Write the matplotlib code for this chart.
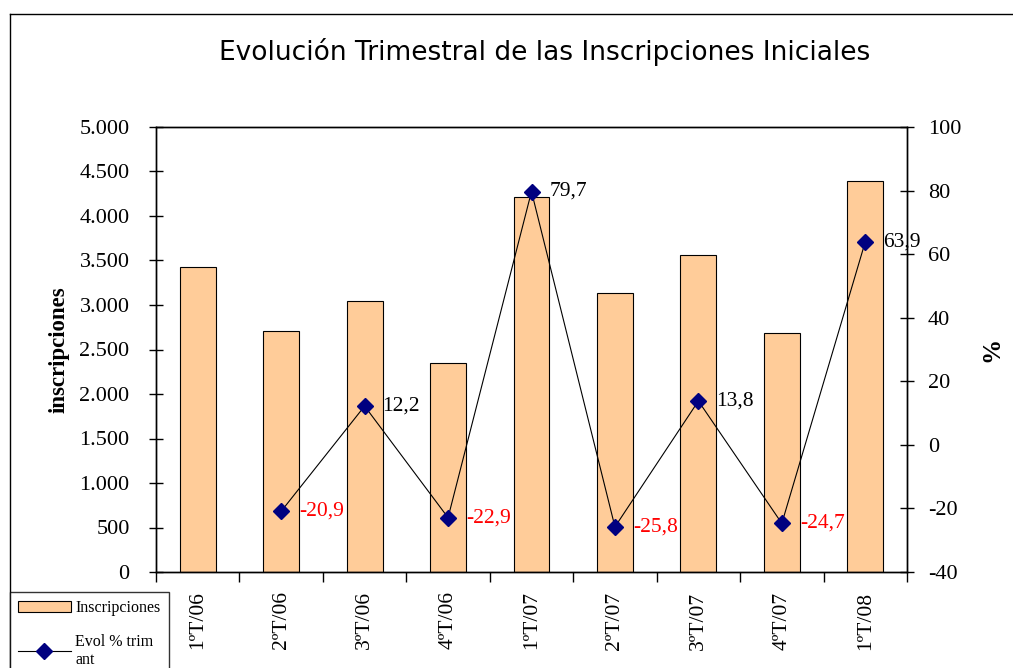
import matplotlib
matplotlib.use("Agg")
import matplotlib.pyplot as plt
from matplotlib.lines import Line2D
from matplotlib.ticker import FuncFormatter, MultipleLocator
import numpy as np

plt.rcParams["axes.unicode_minus"] = False

categories = ["1ºT/06", "2ºT/06", "3ºT/06", "4ºT/06", "1ºT/07", "2ºT/07", "3ºT/07", "4ºT/07", "1ºT/08"]
inscripciones = [3430, 2710, 3045, 2348, 4213, 3135, 3562, 2685, 4393]
evol_pct = [None, -20.9, 12.2, -22.9, 79.7, -25.8, 13.8, -24.7, 63.9]
evol_labels = ["", "-20,9", "12,2", "-22,9", "79,7", "-25,8", "13,8", "-24,7", "63,9"]

serif = "Liberation Serif"

fig = plt.figure(figsize=(10.13, 6.68), dpi=100)
ax = fig.add_axes([156/1013, 1-572/668, 751/1013, 445/668])
ax2 = ax.twinx()

x = np.arange(len(categories))
ax.bar(x, inscripciones, width=0.43, color="#FFCC99", edgecolor="black", linewidth=0.8, zorder=2,
       label="Inscripciones")
ax.set_xlim(-0.5, len(categories) - 0.5)
ax.set_ylim(0, 5000)
ax.yaxis.set_major_locator(MultipleLocator(500))
ax.yaxis.set_major_formatter(FuncFormatter(lambda v, p: f"{int(v):,}".replace(",", ".")))
ax.set_xticks(x)
ax.set_xticklabels(categories, rotation=90, fontfamily=serif, fontsize=15.5)
ax.tick_params(axis="x", length=0, pad=14)
ax.set_xticks(np.arange(-0.5, len(categories), 1), minor=True)
ax.tick_params(axis="x", which="minor", length=7, direction="out", width=1)
ax.tick_params(axis="y", direction="inout", length=10, labelsize=16, width=1, pad=14)
for lbl in ax.get_yticklabels():
    lbl.set_fontfamily(serif)
ax.set_ylabel("inscripciones", fontfamily=serif, fontweight="bold", fontsize=16.5, labelpad=7)

xs = [i for i, v in enumerate(evol_pct) if v is not None]
ys = [v for v in evol_pct if v is not None]
ax2.plot(xs, ys, color="black", linewidth=0.8, marker="D", markersize=8,
         markerfacecolor="#000080", markeredgecolor="#000080", zorder=3, label="Evol % trim\nant")
ax2.set_ylim(-40, 100)
ax2.yaxis.set_major_locator(MultipleLocator(20))
ax2.tick_params(axis="y", direction="inout", length=10, labelsize=16, width=1, pad=10)
for lbl in ax2.get_yticklabels():
    lbl.set_fontfamily(serif)
ax2.set_ylabel("%", fontfamily=serif, fontweight="bold", fontsize=18, labelpad=14, rotation=90)

for i, v in enumerate(evol_pct):
    if v is None:
        continue
    ax2.annotate(evol_labels[i], (i, v), xytext=(13, 0), textcoords="offset points",
                 va="center", ha="left", fontfamily=serif, fontsize=15.5,
                 color="red" if v < 0 else "black", zorder=4)

for a in (ax, ax2):
    for s in a.spines.values():
        s.set_linewidth(1)
        s.set_color("black")

fig.text(545/1013, 1-52/668, "Evolución Trimestral de las Inscripciones Iniciales",
         ha="center", va="center", fontfamily="DejaVu Sans", fontsize=19)

# outer chart frame (top & left edges visible)
fig.add_artist(Line2D([10/1013, 1.0], [1-14/668, 1-14/668], transform=fig.transFigure, color="black", linewidth=1))
fig.add_artist(Line2D([10/1013, 10/1013], [0, 1-14/668], transform=fig.transFigure, color="black", linewidth=1))

h1, l1 = ax.get_legend_handles_labels()
h2, l2 = ax2.get_legend_handles_labels()
leg = fig.legend(h1 + h2, l1 + l2, loc="upper left", bbox_to_anchor=(10/1013, 1-592/668),
                 prop={"family": serif, "size": 11.5}, frameon=True, fancybox=False,
                 edgecolor="black", borderpad=0.5, labelspacing=1.1, handlelength=3.3,
                 handletextpad=0.3, borderaxespad=0)
leg.get_frame().set_linewidth(1)

fig.savefig("out.png", dpi=100)
